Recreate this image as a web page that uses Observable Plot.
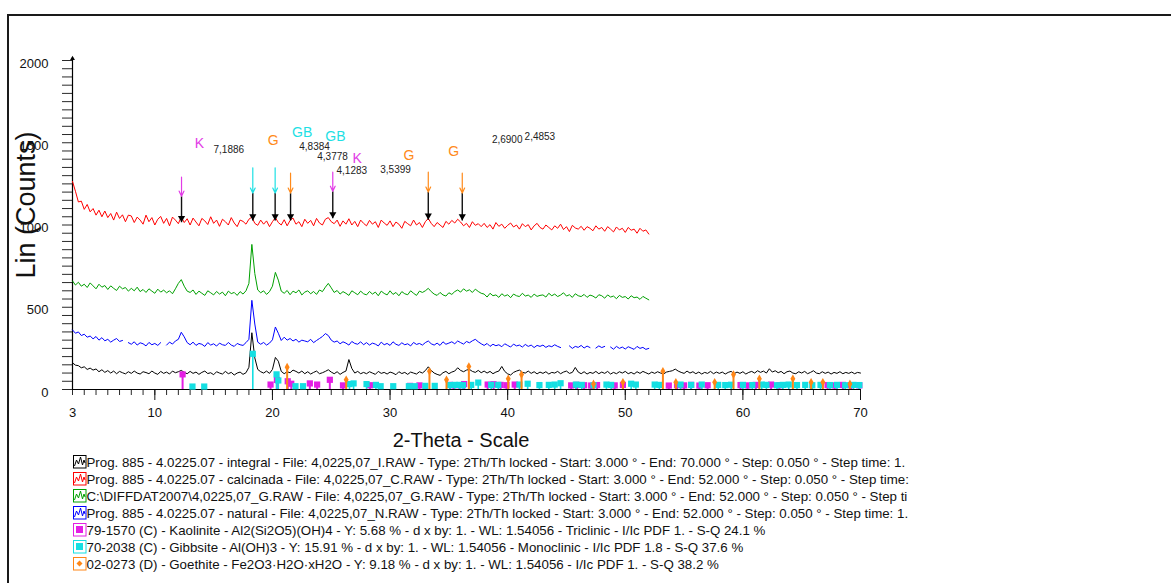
<!DOCTYPE html>
<html><head><meta charset="utf-8">
<script src="https://cdn.jsdelivr.net/npm/d3@7"></script>
<script src="https://cdn.jsdelivr.net/npm/@observablehq/plot@0.6"></script>
<style>
html,body{margin:0;padding:0;background:#fff;}
#wrap{position:relative;width:1171px;height:583px;overflow:hidden;font-family:"Liberation Sans",Arial,Helvetica,sans-serif;color:#111;}
#frame{position:absolute;left:7px;top:14px;right:-10px;bottom:-10px;border-left:2px solid #1a1a1a;border-top:2px solid #1a1a1a;}
#chart{position:absolute;left:0;top:0;}
#ylab{position:absolute;left:26px;top:205px;transform:translate(-50%,-50%) rotate(-90deg);font-size:27px;white-space:nowrap;}
#xlab{position:absolute;left:461px;top:440px;transform:translate(-50%,-50%);font-size:20px;white-space:nowrap;}
#legend{position:absolute;left:73px;top:454px;font-size:13.3px;}
.row{position:relative;height:17px;line-height:17px;white-space:nowrap;}
.row svg{position:absolute;left:0;top:1px;}
.row span{position:absolute;left:13.5px;top:0;}
</style>
</head><body>
<div id="wrap">
  <div id="frame"></div>
  <div id="chart"></div>
  <div id="ylab">Lin (Counts)</div>
  <div id="xlab">2-Theta - Scale</div>
  <div id="legend"></div>
</div>
<script>
const xStart = 3, xStep = 0.25;

// integral (black), 3..70
const integral = [
162,148,145,132,138,122,130,118,125,108,120,104,115,100,112,96,110,102,95,108,
98,112,100,94,108,103,96,112,100,92,110,98,106,94,112,102,108,116,104,96,
110,98,106,92,104,112,97,102,90,108,100,94,110,96,104,88,100,106,92,102,
135,345,192,122,108,100,112,98,122,195,172,110,96,108,102,118,110,100,112,96,
108,94,104,112,96,102,110,120,106,96,108,92,104,112,182,128,100,110,96,104,
96,108,100,92,110,98,104,94,106,100,90,108,97,104,92,106,100,94,108,100,
115,138,116,100,92,86,102,110,96,106,112,132,116,108,118,122,110,104,116,102,
112,100,110,96,106,112,140,110,95,88,104,112,118,104,100,112,98,108,95,106,
98,108,94,104,100,110,96,106,112,98,104,134,106,96,108,94,104,98,110,96,
106,98,110,94,104,96,108,100,110,96,104,94,108,98,110,102,94,106,98,108,
100,94,106,110,114,124,112,104,98,112,100,108,96,106,94,104,98,110,96,106,
98,106,94,104,110,96,106,98,108,94,104,110,100,114,104,112,100,126,106,114,
102,110,96,108,112,100,96,108,100,110,96,104,114,100,96,108,98,106,94,104,
98,108,96,104,98,106,96,104,100];

// calcinada (red), 3..52
const calcinada = [
1265,1205,1140,1145,1095,1125,1080,1100,1060,1090,1050,1085,1045,1070,1030,1078,1040,1062,1020,1060,
1055,1015,1048,1030,1005,1060,1020,1045,1000,1035,1052,1010,1040,995,1048,1030,1008,1050,1015,1038,
1000,1042,1018,995,1040,1025,1003,1050,1010,1030,992,1035,1020,1000,1045,1012,990,1030,1022,1005,
1035,1048,1010,998,1030,1005,1025,990,1020,1045,1015,1000,1032,995,1028,1042,1005,1020,990,1035,
1010,1028,995,1040,1012,1000,1035,1045,1020,1008,1030,992,1025,1005,1038,1000,1022,990,1030,1010,
995,1028,1005,1020,985,1030,1012,998,1025,990,1018,1005,980,1022,1008,995,1030,1000,1015,985,
1020,1040,1010,990,1015,1000,985,1022,1005,1028,1012,1035,1018,995,1010,985,1020,998,1008,990,
1010,985,1002,975,1015,992,1005,980,998,1012,988,1000,975,1008,990,1002,970,995,1010,985,
975,1000,985,970,995,980,1005,972,990,960,998,982,975,992,968,990,980,965,995,975,
985,962,990,975,958,988,970,980,955,985,968,975,950,980,962,970,945];

// 4,0225,07_G (green), 3..52
const scanG = [
660,635,652,628,640,620,648,630,612,640,622,632,608,630,615,602,628,612,620,598,
615,600,622,595,608,590,612,598,585,610,592,604,588,600,582,612,645,668,628,598,
590,605,578,598,585,572,600,588,575,596,580,592,570,598,583,590,572,595,580,600,
645,882,705,605,588,600,578,595,628,712,665,598,585,602,576,598,588,605,575,592,
600,582,596,578,605,595,622,645,618,590,602,580,595,585,572,600,588,576,598,582,
575,596,580,592,570,598,584,575,600,578,590,570,595,582,576,600,585,572,598,590,
600,615,595,580,572,590,575,568,588,578,595,605,592,612,598,606,590,610,596,585,
580,562,585,570,575,560,582,568,576,558,580,570,565,585,568,574,560,580,566,572,
575,562,585,570,580,565,574,588,568,576,560,582,570,565,578,560,574,568,556,576,
570,555,575,562,568,552,572,560,565,550,570,558,562,548,566,555,545];

// natural (blue), 3..52, null = missing stretch
const natural = [
362,342,350,328,336,318,325,308,322,300,315,296,305,288,300,310,292,298,null,285,
275,290,270,284,278,265,286,272,280,268,285,null,270,288,276,295,305,348,320,285,
272,288,268,280,275,262,285,270,278,264,282,272,268,286,270,262,280,272,268,285,
305,542,398,288,275,286,270,282,302,380,342,298,318,300,310,295,305,288,300,295,
290,305,285,298,310,322,340,328,300,288,295,278,290,282,270,292,280,275,290,272,
285,270,282,276,265,288,272,280,268,290,275,268,284,272,278,265,286,274,280,270,
285,295,278,270,282,268,290,275,282,290,278,295,285,276,292,284,296,305,290,278,
268,280,262,275,266,272,260,278,268,258,276,265,270,258,274,262,270,255,268,262,
270,256,266,260,272,262,255,null,null,265,250,262,256,268,252,264,255,null,252,265,
255,262,null,258,245,262,250,258,246,260,252,244,262,250,256,244,250];

// reference patterns: [2-Theta, height]
const kaolinite = [[12.36,92],[19.84,30],[20.38,58],[21.3,50],[21.6,35],[23.18,37],[23.8,30],[24.88,59],[26.0,25],[28.3,26],[31.7,22],[32.5,25],[35.1,28],[35.4,26],[35.9,26],[36.3,33],[38.3,30],[38.8,32],[39.4,28],[39.9,26],[40.6,30],[45.4,25],[45.9,28],[46.5,26],[47.1,24],[47.6,27],[49.1,25],[49.8,28],[53.7,24],[54.4,27],[55.0,25],[55.6,28],[56.3,24],[57.0,26],[59.8,27],[60.4,25],[61.1,28],[62.4,30],[63.1,26],[67.2,27],[67.8,25],[68.5,28],[69.2,26],[69.9,25]];
const gibbsite = [[13.2,18],[14.2,18],[18.33,217],[20.35,92],[20.5,55],[21.96,20],[22.6,20],[26.55,33],[26.9,37],[28.0,33],[28.8,28],[29.2,20],[30.27,20],[31.6,20],[32.1,20],[33.0,22],[33.8,22],[35.1,27],[35.5,28],[35.9,28],[36.2,26],[36.9,28],[37.5,42],[38.6,28],[39.2,28],[41.0,30],[41.7,35],[42.7,27],[43.5,28],[44.0,30],[44.5,38],[45.8,30],[46.3,28],[47.3,26],[48.4,30],[48.8,28],[50.5,35],[50.9,30],[52.5,30],[52.9,28],[54.7,30],[55.6,28],[56.5,30],[57.9,28],[58.5,27],[59.0,29],[60.0,28],[60.8,27],[61.6,30],[62.0,28],[62.9,26],[63.4,28],[63.9,30],[64.6,27],[65.3,28],[65.9,26],[66.6,28],[67.4,27],[68.0,28],[68.7,26],[69.4,28],[69.9,27]];
const goethite = [[21.25,136],[26.27,59],[33.35,111],[34.8,59],[36.7,140],[40.05,65],[41.18,91],[47.3,34],[49.8,44],[53.2,111],[54.3,44],[57.6,44],[59.2,91],[61.4,65],[64.25,65],[65.8,44],[66.8,44],[69.1,34]];

// phase marker arrows on the calcinada scan
const arrowX     = [12.27, 18.33, 20.23, 21.54, 25.13, 33.25, 36.14];
const arrowPhase = ["K", "GB", "GB", "G", "K", "G", "G"];
const arrowTop   = [1291, 1348, 1348, 1315, 1321, 1321, 1315];
const arrowHead  = [1175, 1194, 1194, 1194, 1205, 1200, 1194];
const arrowBase  = [1017, 1028, 1028, 1028, 1041, 1032, 1028];

// phase letters and d-spacings
const phaseText = ["K", "G", "GB", "GB", "K", "G", "G"];
const phaseX    = [13.80, 20.07, 22.53, 25.36, 27.21, 31.60, 35.42];
const phaseY    = [1497, 1514, 1561, 1540, 1402, 1420, 1449];
const dText = ["7,1886", "4,8384", "4,3778", "4,1283", "3,5399", "2,6900", "2,4853"];
const dX    = [16.29, 23.58, 25.11, 26.75, 30.47, 39.96, 42.74];
const dY    = [1459, 1477, 1417, 1328, 1338, 1518, 1534];

// axes
const xDomain = [3, 70];
const yDomain = [0, 2000];
const xTickLabels = [3, 10, 20, 30, 40, 50, 60, 70];
const xMajor = [10, 20, 30, 40, 50, 60, 70];
const yTickLabels = [0, 500, 1000, 1500, 2000];

// legend
const legendText = [
  "Prog. 885 - 4.0225.07 - integral - File: 4,0225,07_I.RAW - Type: 2Th/Th locked - Start: 3.000 ° - End: 70.000 ° - Step: 0.050 ° - Step time: 1.",
  "Prog. 885 - 4.0225.07 - calcinada - File: 4,0225,07_C.RAW - Type: 2Th/Th locked - Start: 3.000 ° - End: 52.000 ° - Step: 0.050 ° - Step time:",
  "C:\\DIFFDAT2007\\4,0225,07_G.RAW - File: 4,0225,07_G.RAW - Type: 2Th/Th locked - Start: 3.000 ° - End: 52.000 ° - Step: 0.050 ° - Step ti",
  "Prog. 885 - 4.0225.07 - natural - File: 4,0225,07_N.RAW - Type: 2Th/Th locked - Start: 3.000 ° - End: 52.000 ° - Step: 0.050 ° - Step time: 1.",
  "79-1570 (C) - Kaolinite - Al2(Si2O5)(OH)4 - Y: 5.68 % - d x by: 1. - WL: 1.54056 - Triclinic - I/Ic PDF 1. - S-Q 24.1 %",
  "70-2038 (C) - Gibbsite - Al(OH)3 - Y: 15.91 % - d x by: 1. - WL: 1.54056 - Monoclinic - I/Ic PDF 1.8 - S-Q 37.6 %",
  "02-0273 (D) - Goethite - Fe2O3·H2O·xH2O - Y: 9.18 % - d x by: 1. - WL: 1.54056 - I/Ic PDF 1. - S-Q 38.2 %"
];
const legendKind = ["scan", "scan", "scan", "scan", "square", "square", "diamond"];

// ---- colours ----
const C_BLACK = "#000", C_RED = "#ff0000", C_GREEN = "#00a000", C_BLUE = "#0000ff";
const C_MAG = "#e41ee4", C_CYAN = "#14dfe2", C_ORANGE = "#ff8616";
const phaseColor = {K: "#e23ce6", G: "#ff8a1a", GB: "#1ee0e4"};
const legendColor = [C_BLACK, C_RED, C_GREEN, C_BLUE, C_MAG, C_CYAN, C_ORANGE];

// ---- tables ----
const toRows = vals => vals.map((v, i) => ({x: xStart + i * xStep, y: v == null ? NaN : v}));
const toSticks = arr => arr.map(([x, h]) => ({x, h}));
const arrows = arrowX.map((x, i) => ({x, phase: arrowPhase[i], top: arrowTop[i], head: arrowHead[i], base: arrowBase[i]}));
const phaseLabels = phaseText.map((t, i) => ({t, x: phaseX[i], y: phaseY[i]}));
const dLabels = dText.map((t, i) => ({t, x: dX[i], y: dY[i]}));

const triDown = {draw(ctx, size) { const r = Math.sqrt(size / Math.PI); ctx.moveTo(-r, -r * 0.7); ctx.lineTo(r, -r * 0.7); ctx.lineTo(0, r); ctx.closePath(); }};

const marks = [
  Plot.axisY({ticks: d3.range(yDomain[0], yDomain[1] + 1, 50), tickSize: 10, tickFormat: () => "", stroke: "#2a2a2a"}),
  Plot.axisY({ticks: yTickLabels, tickSize: 0, tickPadding: 24, dy: 3, fill: "#111", tickFormat: d => String(d)}),
  Plot.axisX({ticks: d3.range(xDomain[0], xDomain[1] + 1, 1), tickSize: 6, tickFormat: () => "", stroke: "#2a2a2a"}),
  Plot.axisX({ticks: xMajor, tickSize: 11, tickFormat: () => "", stroke: "#111"}),
  Plot.axisX({ticks: xTickLabels, tickSize: 0, tickPadding: 18, fill: "#111", tickFormat: d => String(d)}),
  Plot.ruleY([yDomain[0]], {stroke: "#000", strokeWidth: 1.2}),
  Plot.ruleX([xDomain[0]], {y1: yDomain[0], y2: yDomain[1] * 1.008, stroke: "#000", strokeWidth: 1.2}),
  Plot.dot([{x: xDomain[0], y: yDomain[1]}], {x: "x", y: "y", symbol: "triangle", r: 1.8, fill: "#000", dy: -2}),

  Plot.line(toRows(calcinada), {x: "x", y: "y", stroke: C_RED, strokeWidth: 1}),
  Plot.line(toRows(scanG), {x: "x", y: "y", stroke: C_GREEN, strokeWidth: 1}),
  Plot.line(toRows(natural), {x: "x", y: "y", stroke: C_BLUE, strokeWidth: 1}),
  Plot.line(toRows(integral), {x: "x", y: "y", stroke: C_BLACK, strokeWidth: 1}),

  Plot.ruleX(toSticks(kaolinite), {x: "x", y1: 0, y2: "h", stroke: C_MAG, strokeWidth: 2}),
  Plot.dot(toSticks(kaolinite), {x: "x", y: "h", symbol: "square", r: 3.5, fill: C_MAG}),
  Plot.ruleX(toSticks(gibbsite), {x: "x", y1: 0, y2: "h", stroke: C_CYAN, strokeWidth: 1.6}),
  Plot.dot(toSticks(gibbsite), {x: "x", y: "h", symbol: "square", r: 3.5, fill: C_CYAN}),
  Plot.ruleX(toSticks(goethite), {x: "x", y1: 0, y2: "h", stroke: C_ORANGE, strokeWidth: 2}),
  Plot.dot(toSticks(goethite), {x: "x", y: "h", symbol: "diamond", r: 2.6, fill: C_ORANGE}),

  Plot.link(arrows, {x1: "x", x2: "x", y1: "head", y2: "base", stroke: "#111", strokeWidth: 1.4}),
  Plot.dot(arrows, {x: "x", y: "base", symbol: triDown, r: 3.6, fill: "#000", dy: -3.6}),
  ...Object.keys(phaseColor).map(p =>
    Plot.arrow(arrows, {filter: d => d.phase === p, x1: "x", x2: "x", y1: "top", y2: "head", stroke: phaseColor[p], strokeWidth: 1.2, headLength: 7, headAngle: 50})),

  ...Object.keys(phaseColor).map(p =>
    Plot.text(phaseLabels, {filter: d => d.t === p, x: "x", y: "y", text: "t", fill: phaseColor[p], fontSize: 14})),
  Plot.text(dLabels, {x: "x", y: "y", text: "t", fill: "#222", fontSize: 10})
];

const chart = Plot.plot({
  width: 1171, height: 450,
  marginLeft: 72, marginRight: 311, marginTop: 60, marginBottom: 61,
  x: {domain: xDomain, label: null},
  y: {domain: yDomain, label: null},
  style: {fontFamily: '"Liberation Sans", Arial, sans-serif', fontSize: "13px", color: "#111", background: "transparent", overflow: "visible"},
  marks
});
document.getElementById("chart").appendChild(chart);

// ---- legend ----
function icon(kind, col) {
  let inner = "";
  if (kind === "scan") inner = `<polyline points="1.5,11 3.5,5 5.5,9 7.5,2 9.5,10 11,5 12,8" fill="none" stroke="${col}" stroke-width="1"/>`;
  else if (kind === "square") inner = `<rect x="3" y="3" width="7" height="7" fill="${col}"/>`;
  else inner = `<path d="M6.5,3.5 L9.5,6.5 L6.5,9.5 L3.5,6.5Z" fill="${col}"/>`;
  return `<svg width="14" height="14" viewBox="0 0 14 14"><rect x="0.5" y="0.5" width="12.5" height="12.5" fill="none" stroke="${col}" stroke-width="1"/>${inner}</svg>`;
}
const leg = document.getElementById("legend");
legendText.forEach((t, i) => {
  const row = document.createElement("div");
  row.className = "row";
  row.innerHTML = icon(legendKind[i], legendColor[i]);
  const s = document.createElement("span");
  s.textContent = t;
  row.appendChild(s);
  leg.appendChild(row);
});
</script>
</body></html>
